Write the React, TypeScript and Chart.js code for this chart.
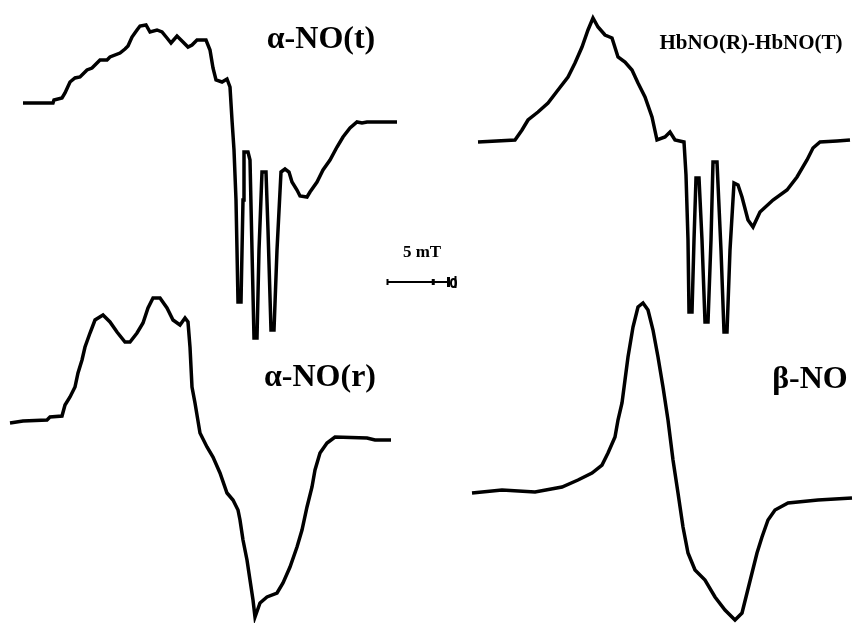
import { useEffect, useRef } from "react";
import { Chart, registerables } from "chart.js";

Chart.register(...registerables);

// Spectrum names shown beside each trace
const spectrumNames = ["α-NO(t)", "HbNO(R)-HbNO(T)", "α-NO(r)", "β-NO"];

// α-NO(t): field (mT, relative to sweep start) and first-derivative signal (a.u.)
const alphaTField = [
  0, 2.4, 2.48, 3.12, 3.36, 3.76, 4.16, 4.56, 5.12, 5.52, 5.92, 6.16, 6.72, 6.96, 7.76, 8.16, 8.4, 8.72, 9.12, 9.36,
  9.84, 10.16, 10.72, 11.12, 11.52, 11.84, 12.32, 12.8, 13.2, 13.52, 13.92, 14.64, 14.96, 15.2, 15.44, 15.92, 16.32,
  16.56, 16.72, 16.88, 17.04, 17.12, 17.2, 17.44, 17.6, 17.68, 18.0, 18.16, 18.32, 18.48, 18.72, 18.88, 19.12, 19.44,
  19.6, 19.84, 20.08, 20.32, 20.64, 20.96, 21.28, 21.52, 21.92, 22.16, 22.72, 22.96, 23.52, 24.0, 24.56, 25.12, 25.6,
  26.16, 26.72, 27.12, 27.52, 29.92,
];
const alphaTSignal = [
  0, 0, 3, 5, 10, 21, 25, 26, 33, 35, 40, 43, 43, 46, 50, 54, 57, 66, 73, 77,
  78, 71, 73, 71, 65, 60, 67, 61, 56, 58, 63, 63, 53, 35, 23, 21, 24,
  16, -17, -47, -97, -147, -199, -199, -97, -49, -49, -57, -147, -235, -235, -147, -69, -69,
  -127, -227, -227, -147, -69, -66, -69, -79, -87, -93, -94, -89, -79, -67, -57, -44, -34,
  -25, -19, -20, -19, -19,
];

// HbNO(R) − HbNO(T) difference spectrum
const diffField = [
  0, 2.96, 3.52, 4.0, 4.8, 5.6, 6.4, 7.2, 7.76, 8.32, 8.8, 9.2, 9.6, 10.16, 10.72, 11.2, 11.76, 12.32, 12.8, 13.36,
  13.92, 14.32, 14.96, 15.36, 15.76, 16.48, 16.64, 16.8, 16.88, 17.12, 17.28, 17.44, 17.68, 17.92, 18.16, 18.4, 18.64,
  18.8, 19.12, 19.44, 19.68, 19.92, 20.16, 20.48, 20.8, 21.12, 21.6, 22.0, 22.56, 23.6, 24.72, 25.52, 26.32, 26.8,
  27.36, 28.72, 29.76,
];
const diffSignal = [
  0, 2, 12, 22, 30, 39, 52, 65, 79, 95, 112, 124, 115, 107, 104, 85, 80, 72, 59, 45,
  25, 2, 5, 10, 2, 0, -33, -98, -170, -170, -98, -36, -36, -98, -180, -180, -98,
  -20, -20, -108, -190, -190, -108, -41, -43, -55, -78, -85, -70, -58, -48, -35, -18, -6,
  0, 1, 2,
];

// α-NO(r)
const alphaRField = [
  0, 1.04, 2.96, 3.2, 4.16, 4.4, 4.8, 5.2, 5.44, 5.76, 6.0, 6.4, 6.8, 7.44, 8.0, 8.56, 9.2, 9.6, 10.16, 10.64, 11.04,
  11.44, 12.0, 12.56, 13.04, 13.6, 14.0, 14.24, 14.4, 14.56, 14.8, 15.2, 15.76, 16.24, 16.8, 17.36, 17.84, 18.24, 18.4,
  18.64, 18.96, 19.2, 19.44, 19.6, 20.0, 20.56, 21.36, 21.84, 22.4, 22.96, 23.36, 23.76, 24.16, 24.4, 24.8, 25.36,
  26.0, 28.56, 29.2, 30.48,
];
const alphaRSignal = [
  -5, -3, -2, 1, 2, 13, 21, 31, 45, 58, 71, 85, 98, 103, 96, 86, 76, 76, 85, 95, 110,
  120, 120, 110, 98, 93, 100, 96, 71, 31, 15, -15, -29, -39, -55, -75, -82, -92, -102,
  -122, -142, -162, -182, -199, -185, -179, -175, -165, -149, -129, -112, -89, -69, -52, -35, -25,
  -19, -20, -22, -22,
];

// β-NO
const betaField = [
  0, 2.4, 5.04, 7.2, 8.48, 9.6, 10.4, 10.88, 11.44, 11.68, 12.0, 12.24, 12.48, 12.88, 13.28, 13.68, 14.08, 14.48,
  14.88, 15.28, 15.68, 16.08, 16.48, 16.88, 17.28, 17.84, 18.64, 19.44, 20.24, 21.04, 21.6, 22.0, 22.4, 22.8, 23.2,
  23.68, 24.24, 25.28, 27.68, 30.4,
];
const betaSignal = [
  -1, 2, 0, 5, 12, 19, 27, 39, 55, 72, 89, 112, 135, 165, 185, 189, 182, 162,
  135, 105, 72, 32, -1, -35, -61, -78, -88, -105, -118, -128, -121, -101, -81, -61, -45,
  -28, -18, -11, -8, -6,
];

// Field scale bar length (mT)
const scaleBarMT = 5;

const W = 855;
const H = 623;
const PX_PER_MT = 12.5;

// Placement of each panel: left edge of the sweep and baseline height (px)
const panels = [
  { field: alphaTField, signal: alphaTSignal, left: 23, base: 103, label: { x: 321, y: 48, size: 32 } },
  { field: diffField, signal: diffSignal, left: 478, base: 142, label: { x: 751, y: 49, size: 21 } },
  { field: alphaRField, signal: alphaRSignal, left: 10, base: 418, label: { x: 320, y: 386, size: 32 } },
  { field: betaField, signal: betaSignal, left: 472, base: 492, label: { x: 810, y: 388, size: 32 } },
];

const SERIF = '"Liberation Serif", "Times New Roman", serif';

const annotations = {
  id: "annotations",
  afterDraw(chart: any) {
    const ctx = chart.ctx;
    ctx.save();
    ctx.fillStyle = "#000";
    ctx.textAlign = "center";
    ctx.textBaseline = "alphabetic";
    panels.forEach((p, i) => {
      ctx.font = `bold ${p.label.size}px ${SERIF}`;
      ctx.fillText(spectrumNames[i], p.label.x, p.label.y);
    });

    // scale bar, length taken from the field axis
    const sx = chart.scales.x0;
    const len = sx.getPixelForValue(scaleBarMT) - sx.getPixelForValue(0);
    const x1 = 387;
    const yb = 282;
    ctx.strokeStyle = "#000";
    ctx.lineWidth = 2;
    ctx.beginPath();
    ctx.moveTo(x1, yb);
    ctx.lineTo(x1 + len, yb);
    ctx.moveTo(x1 + 0.5, yb - 3);
    ctx.lineTo(x1 + 0.5, yb + 3);
    ctx.stroke();
    ctx.lineWidth = 3;
    ctx.beginPath();
    ctx.moveTo(x1 + len * 0.74, yb - 3);
    ctx.lineTo(x1 + len * 0.74, yb + 3);
    ctx.moveTo(x1 + len - 1, yb - 5);
    ctx.lineTo(x1 + len - 1, yb + 5);
    ctx.stroke();
    // end cap of the bar
    ctx.beginPath();
    ctx.ellipse(x1 + len + 4, yb + 1, 2.5, 4, 0, 0, Math.PI * 2);
    ctx.lineWidth = 2;
    ctx.stroke();
    ctx.fillRect(x1 + len + 5, yb - 6, 2, 12);
    ctx.font = `bold 17px ${SERIF}`;
    ctx.fillText(`${scaleBarMT} mT`, 422, 257);
    ctx.restore();
  },
};

export default function App() {
  const ref = useRef<HTMLCanvasElement | null>(null);

  useEffect(() => {
    if (!ref.current) return;
    const scales: any = {};
    panels.forEach((p, i) => {
      scales[`x${i}`] = {
        type: "linear",
        display: false,
        min: -p.left / PX_PER_MT,
        max: (W - p.left) / PX_PER_MT,
      };
      scales[`y${i}`] = {
        type: "linear",
        display: false,
        min: -(H - p.base),
        max: p.base,
      };
    });
    const chart = new Chart(ref.current, {
      type: "line",
      data: {
        datasets: panels.map((p, i) => ({
          label: spectrumNames[i],
          data: p.field.map((f, k) => ({ x: f, y: p.signal[k] })),
          xAxisID: `x${i}`,
          yAxisID: `y${i}`,
          borderColor: "#000",
          borderWidth: 3.5,
          pointRadius: 0,
          tension: 0,
          fill: false,
          clip: false as any,
        })),
      },
      options: {
        responsive: false,
        animation: false,
        layout: { padding: 0 },
        plugins: { legend: { display: false }, tooltip: { enabled: false } },
        scales,
      },
      plugins: [annotations],
    });
    return () => chart.destroy();
  }, []);

  return (
    <div style={{ position: "fixed", left: 0, top: 0, width: W, height: H, background: "#fff" }}>
      <canvas ref={ref} width={W} height={H} style={{ display: "block" }} />
    </div>
  );
}
